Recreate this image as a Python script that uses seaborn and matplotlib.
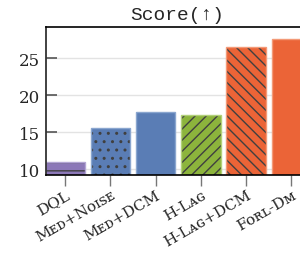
import matplotlib
matplotlib.use("Agg")
import matplotlib.pyplot as plt
import seaborn as sns
import pandas as pd

methods = ["DQL", "Med+Noise", "Med+DCM", "H-Lag", "H-Lag+DCM", "FORL-DM"]
labels = ["DQL", "Mᴇᴅ+Nᴏɪꜱᴇ", "Mᴇᴅ+DCM", "H-Lᴀɢ", "H-Lᴀɢ+DCM", "Fᴏʀʟ-Dᴍ"]
scores = [11.0, 15.6, 17.7, 17.4, 26.5, 27.6]
colors = ["#8c78b8", "#5a7db5", "#5a7db5", "#8cb43c", "#eb6437", "#eb6437"]
edges = ["#b3a6d4", "#8aa6cf", "#8aa6cf", "#b2d07a", "#f39a78", "#f39a78"]
hatches = ["--", "..", "", "///", "\\\\\\", ""]

sns.set_theme(style="white")
plt.rcParams["font.family"] = ["DejaVu Serif", "DejaVu Sans"]
plt.rcParams["hatch.linewidth"] = 1.0

df = pd.DataFrame({"method": methods, "score": scores})

fig = plt.figure(figsize=(3.0, 2.55), dpi=100)
ax = fig.add_axes([0.152, 0.31, 0.91, 0.579])
sns.barplot(data=df, x="method", y="score", hue="method", palette=colors,
            legend=False, width=0.873, ax=ax, saturation=1, zorder=2)

for p, ec, h in zip(ax.patches, edges, hatches):
    p.set_edgecolor(ec)
    p.set_linewidth(1.0)
    if h:
        p.set_hatch(h)
    p._hatch_color = (0.25, 0.25, 0.25, 1.0)

ax.set_xlim(-0.43, 5.6)
ax.set_ylim(9.26, 29.2)
ax.set_yticks([10, 15, 20, 25])
ax.yaxis.grid(True, color="#e3e3e3", linewidth=1.0, zorder=0)
ax.set_axisbelow(True)
ax.set_xticks(range(len(methods)))
ax.set_xticklabels(labels, rotation=30, ha="right", rotation_mode="anchor",
                   fontsize=11)
ax.tick_params(axis="x", direction="out", length=8, width=1, color="#777777",
               pad=1, bottom=True)
ax.tick_params(axis="y", direction="in", length=8, width=1.2, color="#555555",
               labelsize=12, pad=4, left=True)
ax.set_xlabel("")
ax.set_ylabel("")
ax.spines["left"].set_color("#333333")
ax.spines["left"].set_linewidth(1.3)
ax.spines["top"].set_color("black")
ax.spines["top"].set_linewidth(1.2)
ax.spines["bottom"].set_color("black")
ax.spines["bottom"].set_linewidth(1.2)
ax.spines["right"].set_visible(False)
ax.set_title("Score(↑)", family=["Liberation Mono", "DejaVu Sans Mono"],
             fontsize=14, x=0.482, pad=6)

fig.savefig("out.png", dpi=100)
